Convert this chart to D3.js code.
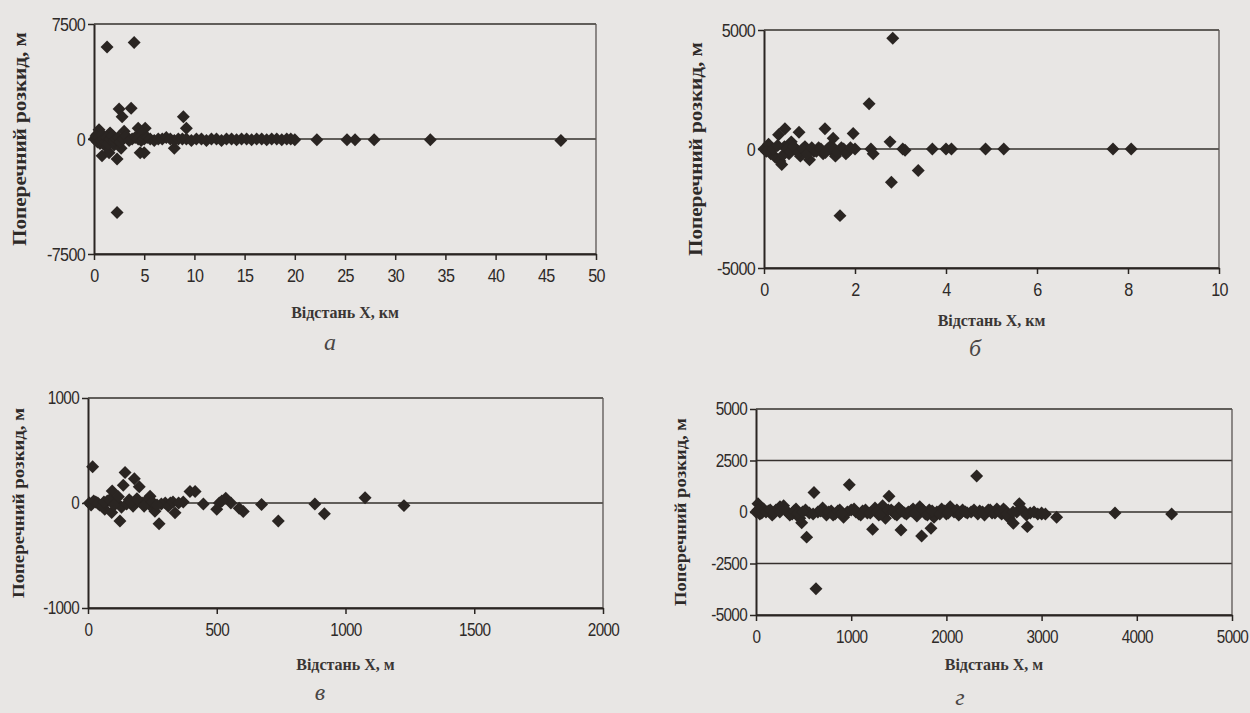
<!DOCTYPE html>
<html>
<head>
<meta charset="utf-8">
<script src="https://cdn.jsdelivr.net/npm/d3@7"></script>
<style>
  body { margin: 0; background: #e8e6e4; }
  svg { display: block; }
</style>
</head>
<body>
<div class="chart-holder"></div>
<script>
// Panel а: distance X in km, lateral spread in m
const a_x = [1.3, 4.0, 2.5, 2.8, 3.7, 8.9, 9.2, 2.3,
  0.8, 1.5, 2.3, 4.6, 5.0, 8.0, 0.6, 1.2, 0.5, 3.0, 4.4, 5.1, 1.6, 4.8, 0.3, 2.0, 2.7,
  0.05, 0.2, 0.35, 0.5, 0.65, 0.8, 0.95, 1.1, 1.25, 1.4, 1.6, 1.8, 2.0, 2.2, 2.4, 2.6, 2.9, 3.2,
  3.5, 3.8, 4.1, 4.4, 4.7, 5.0, 5.3, 5.6, 6.0, 6.4, 6.8, 7.2, 7.6, 8.0, 8.4, 8.8, 9.2, 9.7, 10.2,
  10.7, 11.2, 11.7, 12.2, 12.7, 13.2, 13.7, 14.2, 14.7, 15.2, 15.7, 16.2, 16.7, 17.2, 17.7, 18.2,
  18.7, 19.2, 19.6, 20.0, 22.2, 25.2, 26.0, 27.9, 33.5, 46.5];
const a_y = [6000, 6300, 1950, 1450, 2000, 1450, 700, -4800,
  -1100, -900, -1300, -900, -900, -600, -300, -500, 600, 500, 700, 700, 400, 400, 300, -400, -600,
  0, 200, -200, 100, -100, 300, 0, -200, 100, -300, 0, 200, -100, 0, 100, -200, 0, 200,
  -100, 0, 100, 0, -100, 0, 100, 0, -100, 0, 0, 100, 0, -100, 0, 0, 0, -100, 0,
  0, -100, 0, 0, -100, 0, 0, -50, 0, 0, -50, 0, 0, -50, 0, 0,
  -50, 0, 0, -50, -50, -50, -50, -50, -50, -100];
const a_xTicks = [0, 5, 10, 15, 20, 25, 30, 35, 40, 45, 50];
const a_yTicks = [-7500, 0, 7500];

// Panel б: distance X in km, lateral spread in m
const b_x = [2.83, 2.31, 1.34, 1.96, 2.77, 3.39, 2.80, 1.67, 0.46, 0.32, 0.77, 1.52,
  0.0, 0.1, 0.15, 0.25, 0.35, 0.39, 0.45, 0.55, 0.6, 0.7, 0.8, 0.9, 1.0, 1.1, 1.2, 1.3, 1.4, 1.5,
  1.57, 1.7, 1.85, 2.0, 2.35, 2.4, 3.05, 3.1, 3.7, 4.0, 4.12, 4.87, 5.27, 7.67, 8.07,
  0.05, 0.2, 0.3, 0.42, 0.5, 0.58, 0.65, 0.75, 0.85, 0.95, 1.05, 1.15, 1.25, 1.35, 1.45, 1.55,
  1.62, 1.75, 1.8, 1.9];
const b_y = [4650, 1900, 850, 650, 300, -900, -1400, -2800, 850, 600, 700, 450,
  0, 200, -200, -350, -500, -650, 100, -200, 300, 0, -300, 100, -450, -100, 50, -200, 0, -100,
  -300, 50, -100, 0, 0, -200, 0, -50, 0, 0, 0, 0, 0, 0, 0,
  -100, 0, 150, -250, 0, -100, 100, -150, 0, -200, 50, -100, 0, -150, 100, 0,
  -150, 0, -200, 50];
const b_xTicks = [0, 2, 4, 6, 8, 10];
const b_yTicks = [-5000, 0, 5000];

// Panel в: distance X in m, lateral spread in m
const c_x = [18, 144, 137, 180, 199, 94, 241, 396, 416, 370, 448, 510, 535, 555, 500, 603, 674, 739,
  881, 918, 124, 276, 65, 92, 260, 338, 300, 1076, 1227,
  5, 30, 45, 75, 110, 130, 160, 175, 210, 225, 240, 285, 320, 587,
  12, 22, 38, 55, 62, 84, 102, 118, 150, 168, 190, 218, 250, 268, 312, 330, 352, 520];
const c_y = [345, 290, 170, 230, 155, 115, 65, 110, 110, 10, -10, 0, 45, 0, -60, -80, -15, -172,
  -10, -103, -172, -197, -60, -90, -78, -94, 0, 50, -25,
  0, 10, -20, 20, 0, -40, 30, -30, 0, 20, -20, -10, 0, -50,
  -20, 20, 0, -30, 10, 30, -20, 60, -10, 10, 40, -30, 10, -20, -30, 10, 0, 20];
const c_xTicks = [0, 500, 1000, 1500, 2000];
const c_yTicks = [-1000, 0, 1000];

// Panel г: distance X in m, lateral spread in m
const d_x = [2318, 980, 609, 1397, 630, 532, 1225, 1523, 1740, 1838, 480, 2766, 2850, 2703, 3001,
  3158, 3771, 4366, 21, 252,
  0, 40, 80, 130, 170, 210, 290, 330, 380, 420, 460, 520, 560, 650, 700, 740, 790, 830, 880, 920,
  960, 1030, 1080, 1120, 1170, 1250, 1290, 1330, 1360, 1420, 1460, 1500, 1560, 1600, 1650, 1690,
  1720, 1780, 1820, 1870, 1900, 1950, 2000, 2040, 2080, 2130, 2170, 2220, 2260, 2350, 2400, 2440,
  2480, 2530, 2580, 2620, 2660, 2740, 2800, 2880, 2960, 3040,
  20, 60, 105, 150, 190, 250, 310, 355, 400, 440, 490, 600, 680, 765, 810, 860, 900, 1000, 1050,
  1100, 1150, 1200, 1270, 1310, 1390, 1440, 1480, 1530, 1580, 1630, 1670, 1750, 1800, 1850, 1930,
  1980, 2020, 2110, 2150, 2200, 2290, 2330, 2380, 2460, 2510, 2560, 2600, 2640, 2700, 2840, 2920, 3000];
const d_y = [1750, 1320, 950, 760, -3730, -1220, -840, -870, -1160, -790, -520, 400, -710, -550, -100,
  -250, -50, -100, 400, 250,
  0, -100, 150, 50, -150, 100, 300, 0, -100, 150, -300, 100, -50, 0, 200, -150, 50, -100, 100, -250,
  0, 150, -100, 50, -50, 200, -150, 300, -300, 100, -100, 200, -50, 0, 150, -200,
  250, -100, 100, -250, 0, 150, -100, 250, 0, -150, 100, -50, 0, 50, -150, 100,
  -50, 150, -100, 50, -300, 0, 100, -50, -100, -100,
  100, -50, 0, 100, -50, 0, 100, -150, 50, -50, 0, -100, 50, 0, -150, 50, -50, 100, 0,
  -150, 100, -50, 0, -100, 100, 0, -150, 50, -100, 50, -50, 100, -150, 50, -100,
  50, -50, 100, -50, 0, 100, -100, 0, 100, -50, 0, 150, -100, 0, -150, 0, -50];
const d_xTicks = [0, 1000, 2000, 3000, 4000, 5000];
const d_yTicks = [-5000, -2500, 0, 2500, 5000];

const yTitle = 'Поперечний розкид, м';

// Set up the page-sized SVG
const width = 1250;
const height = 713;

const svg = d3.select('.chart-holder').append('svg')
  .attr('width', width)
  .attr('height', height);

svg.append('rect')
  .attr('width', width)
  .attr('height', height)
  .attr('fill', '#e8e6e4');

const ink = '#2a2522';

// Draws one small scatter plot in Excel style
function drawPanel(p) {
  const g = svg.append('g');

  const x = d3.scaleLinear().domain(p.xDomain).range([p.left, p.right]);
  const y = d3.scaleLinear().domain(p.yDomain).range([p.bottom, p.top]);

  // Horizontal gridlines at every y tick
  g.selectAll('line.grid')
    .data(p.yTicks)
    .join('line')
    .attr('class', 'grid')
    .attr('x1', p.left)
    .attr('x2', p.right)
    .attr('y1', d => y(d))
    .attr('y2', d => y(d))
    .attr('stroke', '#35302d')
    .attr('stroke-width', 1.6);

  // Right border of the plot area
  g.append('line')
    .attr('x1', p.right)
    .attr('x2', p.right)
    .attr('y1', p.top)
    .attr('y2', p.bottom)
    .attr('stroke', '#5a5552')
    .attr('stroke-width', 1.3);

  // X axis
  const xAxis = g.append('g')
    .attr('transform', 'translate(0,' + p.bottom + ')')
    .call(d3.axisBottom(x).tickValues(p.xTicks).tickSizeInner(6).tickSizeOuter(0)
      .tickPadding(9).tickFormat(d => String(d)));

  // Y axis
  const yAxis = g.append('g')
    .attr('transform', 'translate(' + p.left + ',0)')
    .call(d3.axisLeft(y).tickValues(p.yTicks).tickSizeInner(6).tickSizeOuter(0)
      .tickPadding(3).tickFormat(d => String(d)));

  [xAxis, yAxis].forEach(ax => {
    ax.select('.domain').attr('stroke', ink).attr('stroke-width', 2);
    ax.selectAll('.tick line').attr('stroke', ink).attr('stroke-width', 1.5);
    ax.selectAll('.tick text')
      .attr('fill', '#2e2a28')
      .style('font-family', '"Liberation Sans", Arial, sans-serif')
      .style('font-size', p.tickSize + 'px')
      .style('letter-spacing', '-0.8px');
  });
  // narrow the tick digits like the condensed print
  xAxis.selectAll('.tick text').attr('transform', 'scale(0.85,1)');
  yAxis.selectAll('.tick text').attr('transform', 'scale(0.85,1)')
    .attr('x', -9 / 0.85);

  // Diamond markers
  g.selectAll('path.pt')
    .data(d3.zip(p.xs, p.ys))
    .join('path')
    .attr('class', 'pt')
    .attr('d', d3.symbol(d3.symbolSquare, 84))
    .attr('transform', d => 'translate(' + x(d[0]) + ',' + y(d[1]) + ') rotate(45)')
    .attr('fill', ink);

  // X axis title
  g.append('text')
    .attr('x', (p.left + p.right) / 2)
    .attr('y', p.xTitleY)
    .attr('text-anchor', 'middle')
    .attr('fill', '#3a3634')
    .style('font-family', '"Liberation Serif", "Times New Roman", serif')
    .style('font-weight', 'bold')
    .style('font-size', '16px')
    .text(p.xTitle);

  // Y axis title
  g.append('text')
    .attr('transform', 'translate(' + p.yTitleX + ',' + ((p.top + p.bottom) / 2) + ') rotate(-90)')
    .attr('text-anchor', 'middle')
    .attr('fill', '#2e2a28')
    .attr('textLength', p.yTitleLen)
    .attr('lengthAdjust', 'spacingAndGlyphs')
    .style('font-family', '"Liberation Serif", "Times New Roman", serif')
    .style('font-weight', 'bold')
    .style('font-size', p.yTitleSize + 'px')
    .text(yTitle);

  // Panel letter
  g.append('text')
    .attr('x', p.letterX)
    .attr('y', p.letterY)
    .attr('text-anchor', 'middle')
    .attr('fill', '#4a4644')
    .style('font-family', '"Liberation Serif", "Times New Roman", serif')
    .style('font-style', 'italic')
    .style('font-size', '24px')
    .text(p.letter);
}

drawPanel({
  xs: a_x, ys: a_y, xDomain: [0, 50], yDomain: [-7500, 7500], xTicks: a_xTicks, yTicks: a_yTicks,
  left: 94, right: 596, top: 24, bottom: 254, tickSize: 19,
  xTitle: 'Відстань X, км', xTitleY: 318, yTitleX: 26, yTitleSize: 19, yTitleLen: 214,
  letter: 'а', letterX: 330, letterY: 350
});

drawPanel({
  xs: b_x, ys: b_y, xDomain: [0, 10], yDomain: [-5000, 5000], xTicks: b_xTicks, yTicks: b_yTicks,
  left: 764, right: 1219, top: 30, bottom: 268, tickSize: 19,
  xTitle: 'Відстань X, км', xTitleY: 326, yTitleX: 702, yTitleSize: 19, yTitleLen: 214,
  letter: 'б', letterX: 975, letterY: 356
});

drawPanel({
  xs: c_x, ys: c_y, xDomain: [0, 2000], yDomain: [-1000, 1000], xTicks: c_xTicks, yTicks: c_yTicks,
  left: 88, right: 603, top: 398, bottom: 608, tickSize: 18,
  xTitle: 'Відстань X, м', xTitleY: 670, yTitleX: 24, yTitleSize: 17, yTitleLen: 190,
  letter: 'в', letterX: 320, letterY: 700
});

drawPanel({
  xs: d_x, ys: d_y, xDomain: [0, 5000], yDomain: [-5000, 5000], xTicks: d_xTicks, yTicks: d_yTicks,
  left: 756, right: 1232, top: 409, bottom: 615, tickSize: 18,
  xTitle: 'Відстань X, м', xTitleY: 670, yTitleX: 686, yTitleSize: 17, yTitleLen: 188,
  letter: 'г', letterX: 960, letterY: 705
});
</script>
</body>
</html>
